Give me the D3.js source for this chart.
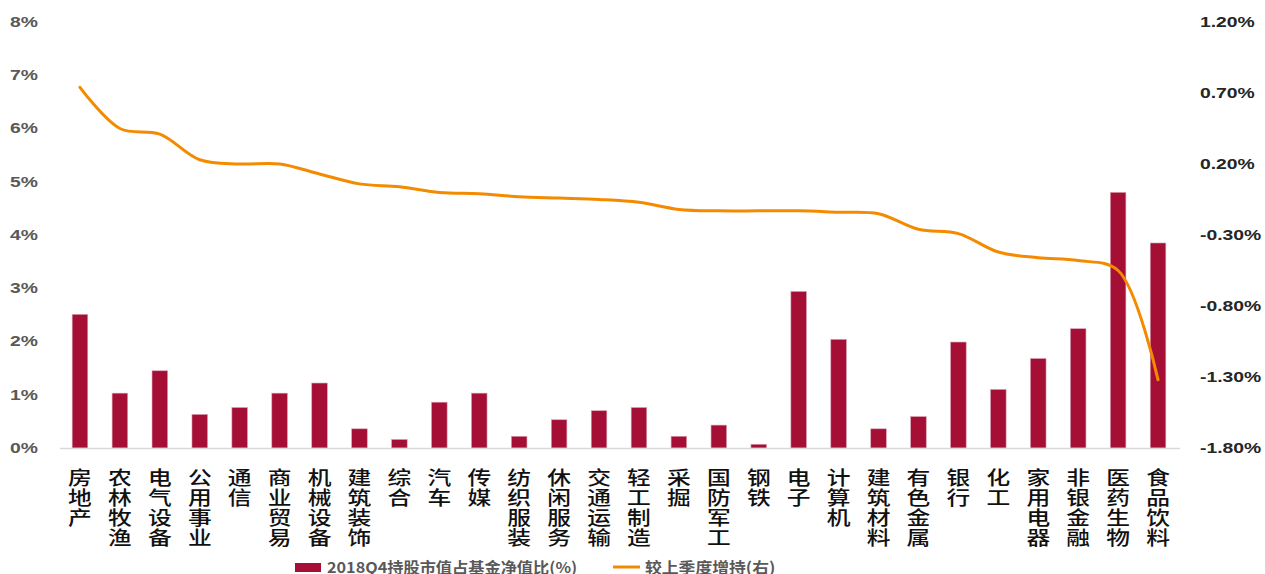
<!DOCTYPE html>
<html>
<head>
<meta charset="utf-8">
<script src="https://cdn.jsdelivr.net/npm/d3@7"></script>
<style>
  html, body { margin: 0; padding: 0; background: #fff; }
  svg { display: block; }
</style>
</head>
<body>
<svg id="chart" width="1265" height="574"></svg>
<script>
// Industry names (申万一级)
const categories = ["房地产","农林牧渔","电气设备","公用事业","通信","商业贸易","机械设备","建筑装饰","综合","汽车",
  "传媒","纺织服装","休闲服务","交通运输","轻工制造","采掘","国防军工","钢铁","电子","计算机",
  "建筑材料","有色金属","银行","化工","家用电器","非银金融","医药生物","食品饮料"];

// 2018Q4 market value held as % of fund net asset value (left axis)
const holdingRatio = [2.51,1.03,1.45,0.63,0.76,1.03,1.22,0.36,0.16,0.86,
  1.03,0.22,0.53,0.70,0.76,0.22,0.43,0.07,2.94,2.04,
  0.36,0.59,1.99,1.10,1.68,2.24,4.80,3.85];

// Change vs previous quarter, % (right axis)
const qoqChange = [0.74,0.45,0.41,0.23,0.20,0.20,0.13,0.06,0.04,0.00,
  -0.01,-0.03,-0.04,-0.05,-0.07,-0.12,-0.13,-0.13,-0.13,-0.14,
  -0.15,-0.26,-0.29,-0.42,-0.46,-0.48,-0.55,-1.32];

const leftTicks = [0,1,2,3,4,5,6,7,8];
const rightTicks = [1.2,0.7,0.2,-0.3,-0.8,-1.3,-1.8];

const legendLabels = ["2018Q4持股市值占基金净值比(%)", "较上季度增持(右)"];

const BAR_COLOR = "#a50e35";
const LINE_COLOR = "#f48a00";

const svg = d3.select("#chart");

const plot = { left: 60, right: 1178, top: 22, bottom: 448 };

const x = d3.scaleBand()
  .domain(categories)
  .range([plot.left, plot.right])
  .paddingInner(0.61)
  .paddingOuter(0.305);

const yLeft = d3.scaleLinear().domain([0, 8]).range([plot.bottom, plot.top]);
const yRight = d3.scaleLinear().domain([-1.8, 1.2]).range([plot.bottom, plot.top]);

// widen text horizontally by factor k
function stretch(sel, k) {
  sel.each(function () {
    const len = this.getComputedTextLength();
    d3.select(this)
      .attr("textLength", len * k)
      .attr("lengthAdjust", "spacingAndGlyphs");
  });
}

// Left axis
const gLeft = svg.append("g")
  .attr("transform", "translate(38,0)")
  .call(d3.axisLeft(yLeft).tickValues(leftTicks).tickFormat(d => d + "%").tickSize(0).tickPadding(0));
gLeft.select(".domain").remove();
gLeft.selectAll("text")
  .attr("fill", "#595959")
  .style("font-family", "'Liberation Sans', Arial, sans-serif")
  .style("font-weight", "bold")
  .style("font-size", "14px")
  .call(stretch, 1.38);

// Right axis
const gRight = svg.append("g")
  .attr("transform", "translate(1200,0)")
  .call(d3.axisRight(yRight).tickValues(rightTicks).tickFormat(d => d3.format(".2f")(d).replace("−", "-") + "%").tickSize(0).tickPadding(0));
gRight.select(".domain").remove();
gRight.selectAll("text")
  .attr("fill", "#262626")
  .style("font-family", "'Liberation Sans', Arial, sans-serif")
  .style("font-weight", "bold")
  .style("font-size", "14px")
  .call(stretch, 1.38);

// Bars
svg.append("g")
  .selectAll("rect")
  .data(categories)
  .join("rect")
  .attr("x", d => x(d))
  .attr("width", x.bandwidth())
  .attr("y", (d, i) => yLeft(holdingRatio[i]))
  .attr("height", (d, i) => yLeft(0) - yLeft(holdingRatio[i]))
  .attr("fill", BAR_COLOR)
  .attr("stroke", "#d9a0b0")
  .attr("stroke-width", 0.6);

// Baseline
svg.append("line")
  .attr("x1", plot.left).attr("x2", plot.right + 2)
  .attr("y1", yLeft(0) + 0.5).attr("y2", yLeft(0) + 0.5)
  .attr("stroke", "#d9d9d9")
  .attr("stroke-width", 1.5);

// Smoothed line on right axis
const line = d3.line()
  .x((d, i) => x(categories[i]) + x.bandwidth() / 2)
  .y(d => yRight(d))
  .curve(d3.curveCatmullRom.alpha(0.5));

svg.append("path")
  .datum(qoqChange)
  .attr("d", line)
  .attr("fill", "none")
  .attr("stroke", LINE_COLOR)
  .attr("stroke-width", 3)
  .attr("stroke-linecap", "round");

// Category labels: one character per row, stacked downward
const gCat = svg.append("g");
categories.forEach(name => {
  const cx = x(name) + x.bandwidth() / 2;
  Array.from(name).forEach((ch, j) => {
    gCat.append("g")
      .attr("transform", `translate(${cx},${468 + j * 20}) scale(1.25,1)`)
      .append("text")
      .attr("x", 0)
      .attr("y", 0)
      .attr("writing-mode", "vertical-rl")
      .style("text-orientation", "upright")
      .attr("fill", "#111")
      .style("font-family", "'Noto Sans CJK SC', sans-serif")
      .style("font-size", "19px")
      .style("font-weight", "500")
      .text(ch);
  });
});

// Legend
const gLeg = svg.append("g")
  .style("font-family", "'Noto Sans CJK SC', sans-serif")
  .style("font-size", "15px")
  .style("font-weight", "bold");

gLeg.append("rect")
  .attr("x", 295).attr("y", 563)
  .attr("width", 26).attr("height", 9)
  .attr("fill", BAR_COLOR);
gLeg.append("text")
  .attr("x", 327).attr("y", 566)
  .attr("dominant-baseline", "central")
  .attr("fill", "#595959")
  .text(legendLabels[0])
  .call(stretch, 1.08);

gLeg.append("line")
  .attr("x1", 613).attr("x2", 640)
  .attr("y1", 567).attr("y2", 567)
  .attr("stroke", LINE_COLOR)
  .attr("stroke-width", 3);
gLeg.append("text")
  .attr("x", 645).attr("y", 566)
  .attr("dominant-baseline", "central")
  .attr("fill", "#595959")
  .text(legendLabels[1])
  .call(stretch, 1.12);
</script>
</body>
</html>
